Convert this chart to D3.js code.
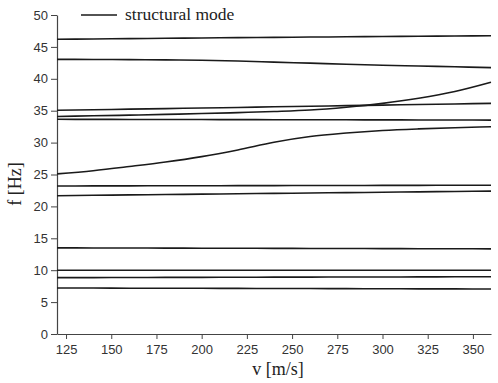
<!DOCTYPE html>
<html>
<head>
<meta charset="utf-8">
<script src="https://cdn.jsdelivr.net/npm/d3@7"></script>
<style>
  html, body { margin: 0; padding: 0; background: #fff; }
  svg { display: block; }
</style>
</head>
<body>
<div id="chart"></div>
<script>
// Flow speed samples (m/s)
const speeds = [120, 140, 160, 180, 200, 220, 240, 260, 280, 300, 320, 340, 360];

// Structural mode frequencies (Hz) versus flow speed
const mode1 = [46.20, 46.25, 46.30, 46.35, 46.40, 46.45, 46.50, 46.54, 46.58, 46.63, 46.67, 46.71, 46.75];
const mode2 = [43.05, 43.03, 43.00, 42.96, 42.90, 42.80, 42.62, 42.45, 42.28, 42.13, 42.00, 41.88, 41.75];
const mode3 = [35.06, 35.15, 35.24, 35.33, 35.42, 35.51, 35.61, 35.70, 35.79, 35.88, 35.97, 36.06, 36.15];
const mode4 = [34.10, 34.20, 34.30, 34.42, 34.55, 34.70, 34.87, 35.10, 35.55, 36.15, 36.95, 38.00, 39.45];
const mode5 = [33.65, 33.64, 33.63, 33.62, 33.61, 33.60, 33.59, 33.58, 33.57, 33.56, 33.55, 33.54, 33.53];
const mode6 = [25.10, 25.60, 26.25, 26.95, 27.80, 28.85, 30.05, 30.95, 31.50, 31.90, 32.15, 32.33, 32.48];
const mode7 = [23.20, 23.21, 23.22, 23.23, 23.24, 23.25, 23.26, 23.27, 23.28, 23.29, 23.30, 23.31, 23.32];
const mode8 = [21.68, 21.74, 21.80, 21.86, 21.92, 21.98, 22.04, 22.10, 22.16, 22.22, 22.28, 22.34, 22.40];
const mode9 = [13.50, 13.49, 13.48, 13.46, 13.45, 13.44, 13.42, 13.41, 13.40, 13.38, 13.37, 13.36, 13.35];
const mode10 = [10.00, 10.00, 10.00, 10.00, 10.00, 10.00, 10.00, 10.00, 10.00, 10.00, 10.00, 10.00, 10.00];
const mode11 = [8.83, 8.84, 8.86, 8.87, 8.88, 8.90, 8.91, 8.92, 8.93, 8.94, 8.95, 8.97, 8.98];
const mode12 = [7.21, 7.20, 7.18, 7.17, 7.16, 7.15, 7.13, 7.12, 7.11, 7.09, 7.08, 7.07, 7.05];

const modes = [mode1, mode2, mode3, mode4, mode5, mode6, mode7, mode8, mode9, mode10, mode11, mode12];

const xTicks = [125, 150, 175, 200, 225, 250, 275, 300, 325, 350];
const yTicks = [0, 5, 10, 15, 20, 25, 30, 35, 40, 45, 50];
const legendLabel = "structural mode";
const xTitle = "v [m/s]";
const yTitle = "f [Hz]";

const W = 498, H = 383;
const margin = { left: 57, right: 7, top: 15, bottom: 49 };

const svg = d3.select("#chart").append("svg")
  .attr("width", W).attr("height", H);

const x = d3.scaleLinear().domain([120, 360]).range([margin.left, W - margin.right]);
const y = d3.scaleLinear().domain([0, 50]).range([H - margin.bottom, margin.top]);

// Axes
const xAxis = svg.append("g")
  .attr("transform", `translate(0,${y(0)})`)
  .call(d3.axisBottom(x).tickValues(xTicks).tickSize(5).tickPadding(6).tickSizeOuter(0));
const yAxis = svg.append("g")
  .attr("transform", `translate(${x(120)},0)`)
  .call(d3.axisLeft(y).tickValues(yTicks).tickSize(6).tickPadding(3).tickSizeOuter(0));

[xAxis, yAxis].forEach(g => {
  g.select(".domain").attr("stroke", "#444").attr("stroke-width", 1.2);
  g.selectAll(".tick line").attr("stroke", "#444").attr("stroke-width", 1);
  g.selectAll(".tick text")
    .attr("fill", "#333")
    .style("font-family", "'Liberation Sans', Arial, sans-serif")
    .style("font-size", "13px");
});

// Mode curves
const line = d3.line()
  .x((d, i) => x(speeds[i]))
  .y(d => y(d))
  .curve(d3.curveMonotoneX);

svg.append("g")
  .selectAll("path")
  .data(modes)
  .join("path")
  .attr("d", line)
  .attr("fill", "none")
  .attr("stroke", "#1a1a1a")
  .attr("stroke-width", 1.6);

// Axis titles
svg.append("text")
  .attr("x", 278)
  .attr("y", 375)
  .attr("text-anchor", "middle")
  .style("font-family", "'Liberation Serif', 'Times New Roman', serif")
  .style("font-size", "18px")
  .attr("fill", "#222")
  .text(xTitle);

svg.append("text")
  .attr("transform", "translate(21,184) rotate(-90)")
  .attr("text-anchor", "middle")
  .style("font-family", "'Liberation Serif', 'Times New Roman', serif")
  .style("font-size", "18px")
  .attr("fill", "#222")
  .text(yTitle);

// Legend
const legend = svg.append("g");
legend.append("line")
  .attr("x1", 81).attr("x2", 117)
  .attr("y1", 15).attr("y2", 15)
  .attr("stroke", "#1a1a1a").attr("stroke-width", 1.6);
legend.append("text")
  .attr("x", 125).attr("y", 20)
  .style("font-family", "'Liberation Serif', 'Times New Roman', serif")
  .style("font-size", "17.5px")
  .attr("fill", "#222")
  .text(legendLabel);
</script>
</body>
</html>
